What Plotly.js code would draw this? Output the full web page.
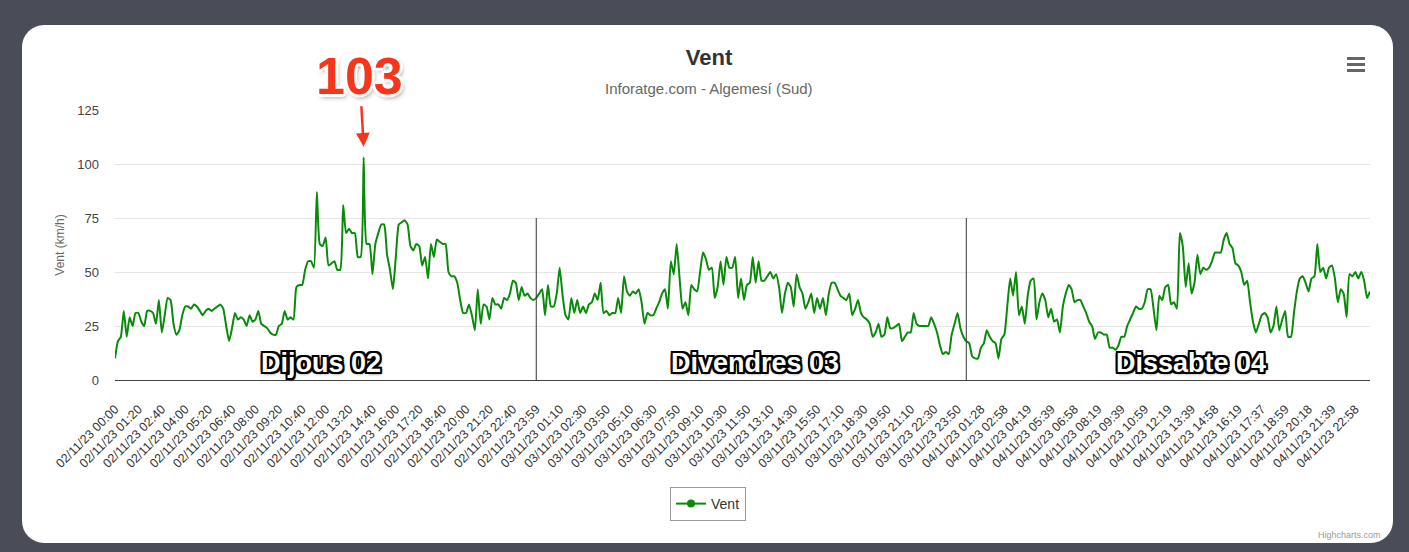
<!DOCTYPE html>
<html><head><meta charset="utf-8">
<script src="https://cdn.plot.ly/plotly-3.0.1.min.js"></script>
<style>
html,body{margin:0;padding:0;background:#4a4d57;width:1409px;height:552px;overflow:hidden;}
#card{position:absolute;left:22px;top:25px;width:1371px;height:518px;background:#fff;border-radius:22px;}
#chart{position:absolute;left:0;top:0;width:1409px;height:552px;}
</style></head><body>
<div id="card"></div><div id="chart"></div>
<script>
const chartTitle = 'Vent';
const chartSubtitle = 'Inforatge.com - Algemesí (Sud)';
const seriesName = 'Vent';
const yAxisTitle = 'Vent (km/h)';
const dayLabels = ['Dijous 02', 'Divendres 03', 'Dissabte 04'];
const daySeparatorIndex = [144, 291];

const tickLabels = [
 "02/11/23 00:00","02/11/23 01:20","02/11/23 02:40","02/11/23 04:00","02/11/23 05:20","02/11/23 06:40","02/11/23 08:00","02/11/23 09:20","02/11/23 10:40","02/11/23 12:00","02/11/23 13:20","02/11/23 14:40","02/11/23 16:00","02/11/23 17:20","02/11/23 18:40","02/11/23 20:00","02/11/23 21:20","02/11/23 22:40","02/11/23 23:59",
 "03/11/23 01:10","03/11/23 02:30","03/11/23 03:50","03/11/23 05:10","03/11/23 06:30","03/11/23 07:50","03/11/23 09:10","03/11/23 10:30","03/11/23 11:50","03/11/23 13:10","03/11/23 14:30","03/11/23 15:50","03/11/23 17:10","03/11/23 18:30","03/11/23 19:50","03/11/23 21:10","03/11/23 22:30","03/11/23 23:50",
 "04/11/23 01:28","04/11/23 02:58","04/11/23 04:19","04/11/23 05:39","04/11/23 06:58","04/11/23 08:19","04/11/23 09:39","04/11/23 10:59","04/11/23 12:19","04/11/23 13:39","04/11/23 14:58","04/11/23 16:19","04/11/23 17:37","04/11/23 18:59","04/11/23 20:18","04/11/23 21:39","04/11/23 22:58"
];
const pointsPerTick = 8;

const windSpeed = [
 10,18,20,32,20,29,25,31,31,27,
 25,32,32,31,26,37,22,30,38,37,
 26,21,23,30,34,34,33,35,34,32,
 30,32,33,32,33,34,35,33,25,18,
 24,31,28,29,28,25,30,27,28,32,
 26,25,24,22,21,21,25,26,32,28,
 29,28,43,44,44,51,55,55,52,87,
 63,62,66,53,54,55,51,51,81,68,
 70,68,68,57,57,103,63,63,49,63,
 68,72,72,58,51,42,57,72,73,74,
 72,62,60,63,62,53,57,47,63,57,
 65,64,63,63,50,48,48,45,37,31,
 31,35,30,23,42,26,35,34,28,38,
 35,35,33,38,37,40,46,45,37,43,
 39,40,38,37,38,40,42,30,44,34,
 34,40,52,39,30,28,38,31,37,31,
 34,31,35,36,40,37,45,31,32,30,
 31,31,38,31,48,41,39,41,40,42,
 36,26,31,30,30,33,36,40,42,33,
 55,49,63,47,33,36,30,44,42,41,
 50,59,56,51,52,38,43,55,44,57,
 52,52,57,38,47,37,44,45,57,45,
 55,46,46,48,50,47,49,43,31,40,
 45,43,34,49,43,40,33,36,40,31,
 38,33,38,30,40,45,45,42,39,38,
 37,40,30,33,37,31,29,28,26,20,
 22,26,20,21,29,24,24,25,26,18,
 20,22,22,31,26,25,25,25,25,29,
 26,22,16,12,13,12,21,26,31,24,
 20,18,17,11,10,10,15,17,23,20,
 18,17,10,19,21,34,47,39,50,30,
 34,26,39,46,47,28,36,40,37,29,
 33,27,28,22,34,40,44,42,36,37,
 37,34,31,27,25,19,22,22,21,21,
 15,15,14,16,20,20,25,28,31,34,
 33,33,36,42,42,33,23,39,37,43,
 44,35,36,33,68,62,43,54,40,45,
 58,49,52,51,52,55,59,59,59,65,
 68,63,61,54,53,50,44,46,36,27,
 22,26,30,31,29,22,25,34,23,28,
 32,20,20,31,41,47,48,45,41,47,
 48,63,50,52,47,52,53,47,36,42,
 40,29,49,48,50,47,50,46,38,41
];

const idx = windSpeed.map((_, i) => i);
const tickVals = tickLabels.map((_, i) => i * pointsPerTick);
const peak = Math.max(...windSpeed);
const peakIdx = windSpeed.indexOf(peak);

// page-pixel -> paper helpers (plot area 115..1370 x 110..380)
const L = 115, R = 1370, T = 110, B = 380;
const px = v => (v - L) / (R - L);
const py = v => (B - v) / (B - T);

const FONT = '"Liberation Sans", Arial, Helvetica, sans-serif';
const green = '#0a8a0a';

const traces = [
  {x: idx, y: windSpeed, type: 'scatter', mode: 'lines', name: seriesName,
   line: {color: green, width: 2, shape: 'spline', smoothing: 0.5}, showlegend: false,
   hovertemplate: '%{y} km/h<extra></extra>'},
  {x: [null], y: [null], type: 'scatter', mode: 'lines+markers', name: seriesName,
   line: {color: green, width: 2}, marker: {color: green, size: 8}, showlegend: true}
];

const blackOutline = '-2px -2px 0 #000, 2px -2px 0 #000, -2px 2px 0 #000, 2px 2px 0 #000, 0 2px 0 #000, 0 -2px 0 #000, 2px 0 0 #000, -2px 0 0 #000, 1px 2px 3px rgba(0,0,0,0.6)';
const whiteOutline = '-2px -2px 0 #fff, 2px -2px 0 #fff, -2px 2px 0 #fff, 2px 2px 0 #fff, 0 3px 0 #fff, 0 -3px 0 #fff, 3px 0 0 #fff, -3px 0 0 #fff, 2px 3px 5px rgba(0,0,0,0.45)';

const dayPos = [70.4, 218.8, 367.8];
const annotations = dayLabels.map((t, i) => ({
  x: dayPos[i], y: 8, xref: 'x', yref: 'y', text: t, showarrow: false,
  font: {family: FONT, size: 27, color: '#fff', weight: 'bold', shadow: blackOutline}
}));
annotations.push({
  x: peakIdx, y: 108, xref: 'x', yref: 'y', text: String(peak), showarrow: true,
  ax: -4, ay: -71, arrowcolor: '#f5361b', arrowwidth: 2.5, arrowhead: 2, arrowsize: 1.1,
  font: {family: FONT, size: 52, color: '#f5361b', weight: 'bold', shadow: whiteOutline}
});
annotations.push({
  x: px(709), y: py(88), xref: 'paper', yref: 'paper', xanchor: 'center', yanchor: 'middle',
  text: chartSubtitle, showarrow: false, font: {family: FONT, size: 15, color: '#666'}
});
annotations.push({
  x: px(1383), y: py(535), xref: 'paper', yref: 'paper', text: 'Highcharts.com', xanchor: 'right',
  yanchor: 'middle', showarrow: false, font: {family: FONT, size: 9, color: '#999'}
});

const shapes = daySeparatorIndex.map(v => ({
  type: 'line', xref: 'x', yref: 'y', x0: v, x1: v, y0: 0, y1: 75,
  line: {color: '#333', width: 1}
}));
[58.5, 64.5, 70.5].forEach(yy => shapes.push({
  type: 'line', xref: 'paper', yref: 'paper', x0: px(1347), x1: px(1365), y0: py(yy), y1: py(yy),
  line: {color: '#666', width: 3}
}));

const layout = {
  width: 1409, height: 552,
  paper_bgcolor: 'rgba(0,0,0,0)', plot_bgcolor: 'rgba(0,0,0,0)',
  margin: {l: L, r: 1409 - R, t: T, b: 552 - B, pad: 0},
  font: {family: FONT, color: '#333'},
  title: {text: chartTitle, x: 709 / 1409, xanchor: 'center', y: 1 - 57 / 552, yanchor: 'middle',
          font: {family: FONT, size: 22, color: '#333', weight: 'bold'}},
  xaxis: {range: [0, windSpeed.length - 1], tickvals: tickVals, ticktext: tickLabels, tickangle: -45,
          showgrid: false, zeroline: false, showline: true, linecolor: '#444', linewidth: 1,
          ticks: '', ticklabelstandoff: 16, tickfont: {family: FONT, size: 12.5, color: '#333'}, fixedrange: true},
  yaxis: {range: [0, 125], dtick: 25, tick0: 0, showgrid: true, gridcolor: '#e6e6e6', gridwidth: 1,
          zeroline: false, showline: false, ticks: '', ticklabelstandoff: 15,
          tickfont: {family: FONT, size: 13, color: '#444'},
          title: {text: yAxisTitle, standoff: 10, font: {family: FONT, size: 12, color: '#666'}}, fixedrange: true},
  legend: {x: px(708), xanchor: 'center', y: py(487), yanchor: 'top', orientation: 'h',
           bordercolor: '#999', borderwidth: 1, bgcolor: '#fff', font: {family: FONT, size: 14, color: '#333'}},
  annotations: annotations, shapes: shapes, showlegend: true
};

Plotly.newPlot('chart', traces, layout, {displayModeBar: false, staticPlot: false});
</script></body></html>
